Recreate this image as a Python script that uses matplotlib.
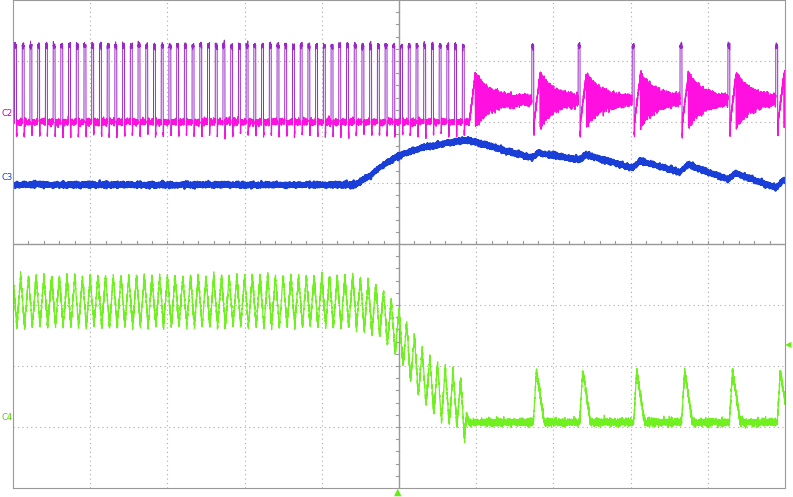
import numpy as np
import matplotlib
matplotlib.use("Agg")
import matplotlib.pyplot as plt

# ---- data (x in divisions 0..10, y in divisions -4..4) ----
c2_low, c2_high, c2_under = 2.0, 3.25, 1.80
c2_train_end = 5.88           # end of continuous switching train
c2_period = 0.10              # switching period in the train
c2_pulse_w = 0.025
c2_burst_starts = [6.72, 7.32, 8.02, 8.64, 9.26, 9.88]
c2_ring_center = 2.36
c2_ring_amp = 0.42

c3_x = [0.0, 4.43, 4.60, 4.80, 5.00, 5.30, 5.60, 5.88, 6.72, 6.80, 7.32, 7.42, 8.02, 8.12, 8.64, 8.74, 9.26, 9.36, 9.88, 9.98, 10.0]
c3_y = [0.97, 0.97, 1.10, 1.30, 1.45, 1.58, 1.65, 1.71, 1.41, 1.50, 1.38, 1.46, 1.25, 1.36, 1.18, 1.30, 1.06, 1.16, 0.92, 1.05, 1.04]

c4_cx = [0.0, 4.43, 4.75, 4.99, 5.27, 5.53, 5.76, 5.90, 10.0]
c4_cy = [-0.94, -0.94, -1.10, -1.45, -2.10, -2.45, -2.55, -2.92, -2.92]
c4_ax = [0.0, 4.43, 5.00, 5.53, 5.85, 5.90, 10.0]
c4_amp = [0.42, 0.42, 0.40, 0.45, 0.45, 0.0, 0.0]
c4_spike_starts = [6.74, 7.34, 8.04, 8.66, 9.28, 9.90]
c4_spike_top = -2.07

rng = np.random.default_rng(1)
t = np.linspace(0, 10, 12000)

# C2
c2 = np.full_like(t, c2_low)
ph = np.mod(t - 0.02, c2_period)
train = t < c2_train_end
c2[train & (ph < c2_pulse_w)] = c2_high
c2[train & (ph >= c2_pulse_w) & (ph < c2_pulse_w + 0.004)] = c2_under
starts = [c2_train_end] + c2_burst_starts
for i, s in enumerate(starts):
    if i > 0:
        m = (t >= s) & (t < s + c2_pulse_w)
        c2[m] = c2_high
        m2 = (t >= s + c2_pulse_w) & (t < s + c2_pulse_w + 0.006)
        c2[m2] = c2_under
    te = s + c2_pulse_w + 0.08
    nxt = starts[i + 1] if i + 1 < len(starts) else 10.1
    m = (t >= te) & (t < nxt)
    dt = t[m] - te
    env = c2_ring_amp * np.exp(-dt / 0.18) + 0.05
    c2[m] = c2_ring_center + env * np.sin(2 * np.pi * dt / 0.008)
    m3 = (t >= s + c2_pulse_w + 0.006) & (t < te)
    c2[m3] = c2_low + (t[m3] - (s + c2_pulse_w + 0.006)) / 0.074 * 0.75
c2 = c2 + rng.normal(0, 0.025, t.size)

# C3
c3 = np.interp(t, c3_x, c3_y) + rng.normal(0, 0.02, t.size)

# C4
cen = np.interp(t, c4_cx, c4_cy)
amp = np.interp(t, c4_ax, c4_amp)
tri = 2 * np.abs(np.mod(t, 0.1) / 0.1 - 0.5) * 2 - 1
c4 = cen + amp * tri
for s in c4_spike_starts:
    up = (t >= s) & (t < s + 0.04)
    c4[up] = c4_cy[-1] + (t[up] - s) / 0.04 * (c4_spike_top - c4_cy[-1])
    dn = (t >= s + 0.04) & (t < s + 0.14)
    c4[dn] = c4_spike_top - (t[dn] - s - 0.04) / 0.10 * (c4_spike_top - c4_cy[-1])
c4 = c4 + rng.normal(0, 0.03, t.size)

fig = plt.figure(figsize=(7.93, 4.97), dpi=100)
ax = fig.add_axes([13 / 793, 1 - 488 / 497, 772 / 793, 488 / 497])
ax.set_xlim(0, 10)
ax.set_ylim(-4, 4)
ax.set_xticks([]); ax.set_yticks([])
for sp in ax.spines.values():
    sp.set_color("#999999")
for xv in range(1, 10):
    ax.axvline(xv, color="#aaaaaa", ls=(0, (1, 3)), lw=0.8)
for yv in range(-3, 4):
    ax.axhline(yv, color="#aaaaaa", ls=(0, (1, 3)), lw=0.8)
ax.axvline(5, color="#999999", lw=1)
ax.axhline(0, color="#999999", lw=1)
for v in np.arange(0.2, 10, 0.2):
    ax.plot([v, v], [0, 0.05], color="#999999", lw=0.8)
for v in np.arange(-3.8, 4, 0.2):
    ax.plot([4.96, 5.0], [v, v], color="#999999", lw=0.8)

ax.plot(t, c2, color="#9a28c8", lw=0.7)
ax.plot(t, np.where(c2 < 3.0, c2, np.nan), color="#ff10e0", lw=0.9)
ax.plot(t, c3, color="#1a3fd8", lw=1.8)
ax.plot(t, c4, color="#70f020", lw=0.9)

fig.text(2 / 793, 1 - 113 / 497, "C2", color="#c000c0", fontsize=6, va="center")
fig.text(2 / 793, 1 - 178 / 497, "C3", color="#1a3fd8", fontsize=6, va="center")
fig.text(2 / 793, 1 - 417 / 497, "C4", color="#55cc00", fontsize=6, va="center")
fig.text(791 / 793, 1 - 345 / 497, "◀", color="#66ee11", fontsize=6, ha="right", va="center")
fig.text(398 / 793, 1 - 492 / 497, "▲", color="#66ee11", fontsize=7, ha="center", va="center")
fig.savefig("out.png", dpi=100)
